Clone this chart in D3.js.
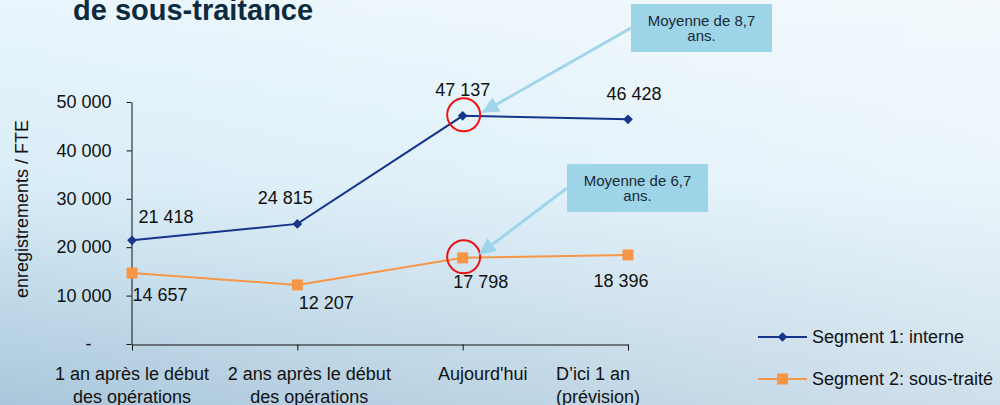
<!DOCTYPE html>
<html>
<head>
<meta charset="utf-8">
<script src="https://cdn.jsdelivr.net/npm/d3@7"></script>
<style>
  html, body { margin: 0; padding: 0; overflow: hidden; }
  svg { display: block; font-family: "Liberation Sans", Arial, sans-serif; }
</style>
</head>
<body>
<svg id="chart"></svg>
<script>
const width = 1000;
const height = 405;

// data
const categories = ["cat1", "cat2", "cat3", "cat4"];
const categoryLabels = [
    ["1 an après le début", "des opérations"],
    ["2 ans après le début", "des opérations"],
    ["Aujourd'hui"],
    ["D’ici 1 an", "(prévision)"]
];
const seriesNames = ["Segment 1: interne", "Segment 2: sous-traité"];
const internal = [21418, 24815, 47137, 46428];
const subcontracted = [14657, 12207, 17798, 18396];
const yTicks = [0, 10000, 20000, 30000, 40000, 50000];

// label placement / styling (not data)
const colors = ["#17358a", "#f79646"];
const labelOffsets = [
    [[34, -17], [-12, -20], [0, -20], [6, -19]],
    [[28, 28], [29, 24], [18, 30], [-7, 32]]
];
const catLabelShift = [[0, "middle"], [12, "middle"], [20, "middle"], [-72, "start"]];
const annotations = [
    { series: 0, index: 2, lines: ["Moyenne de 8,7", "ans."], box: [631, 4, 141, 48], tip: [19, -3] },
    { series: 1, index: 2, lines: ["Moyenne de 6,7", "ans."], box: [567, 164, 141, 48], tip: [16, -3] }
];

const fr = d3.formatLocale({ decimal: ",", thousands: "\u00a0", grouping: [3], currency: ["", " €"] });
const fmt = fr.format(",d");

const svg = d3.select("#chart").attr("width", width).attr("height", height);

// background
const defs = svg.append("defs");
const bg = defs.append("linearGradient").attr("id", "bg").attr("x1", 0).attr("y1", 0).attr("x2", 0).attr("y2", 1);
bg.append("stop").attr("offset", "0%").attr("stop-color", "#e9f5fc");
bg.append("stop").attr("offset", "45%").attr("stop-color", "#d9edf8");
bg.append("stop").attr("offset", "100%").attr("stop-color", "#a9c7db");
const hl = defs.append("linearGradient").attr("id", "hl").attr("x1", 0).attr("y1", 0).attr("x2", 1).attr("y2", 0);
hl.append("stop").attr("offset", "0%").attr("stop-color", "#ffffff").attr("stop-opacity", 0);
hl.append("stop").attr("offset", "100%").attr("stop-color", "#ffffff").attr("stop-opacity", 0.45);
svg.append("rect").attr("width", width).attr("height", height).attr("fill", "url(#bg)");
svg.append("rect").attr("width", width).attr("height", height).attr("fill", "url(#hl)");

// title (partial, top line is cut off)
svg.append("text")
    .attr("x", 73).attr("y", 20)
    .attr("font-size", 29).attr("font-weight", "bold")
    .attr("fill", "#0d2b3e")
    .text("de sous-traitance");

const x = d3.scalePoint().domain(categories).range([132, 628]).padding(0);
const y = d3.scaleLinear().domain([0, 50000]).range([344, 102]);

// y axis
const yAxis = svg.append("g")
    .attr("transform", "translate(131.5,0)")
    .call(d3.axisLeft(y).tickValues(yTicks).tickSize(5).tickSizeOuter(0).tickPadding(15)
        .tickFormat(d => d === 0 ? "-\u2007\u2007" : fmt(d)));
yAxis.selectAll("text").attr("font-size", 18).attr("fill", "#111").attr("font-family", "Liberation Sans, Arial, sans-serif");
yAxis.selectAll("line, path").attr("stroke", "#111");

// x axis
const xAxis = svg.append("g")
    .attr("transform", "translate(0,344.5)")
    .call(d3.axisBottom(x).tickSize(6).tickSizeOuter(0).tickFormat(""));
xAxis.selectAll("line, path").attr("stroke", "#111");

categories.forEach((c, i) => {
    const t = svg.append("text")
        .attr("x", x(c) + catLabelShift[i][0])
        .attr("y", 380)
        .attr("font-size", 18).attr("fill", "#111")
        .attr("text-anchor", catLabelShift[i][1]);
    categoryLabels[i].forEach((ln, j) => {
        t.append("tspan").attr("x", x(c) + catLabelShift[i][0]).attr("dy", j === 0 ? 0 : 22.5).text(ln);
    });
});

// y axis title
svg.append("text")
    .attr("transform", "translate(28,209) rotate(-90)")
    .attr("text-anchor", "middle")
    .attr("font-size", 18).attr("fill", "#111")
    .text("enregistrements / FTE");

// lines
const series = [internal, subcontracted];
const line = d3.line().x((d, i) => x(categories[i])).y(d => y(d));

series.forEach((vals, s) => {
    svg.append("path").datum(vals)
        .attr("d", line)
        .attr("fill", "none")
        .attr("stroke", colors[s])
        .attr("stroke-width", 2);
});

const diamond = d3.symbol().type(d3.symbolDiamond2).size(60);
const square = d3.symbol().type(d3.symbolSquare).size(121);

svg.selectAll(".m1").data(internal).enter().append("path")
    .attr("class", "m1")
    .attr("transform", (d, i) => `translate(${x(categories[i])},${y(d)})`)
    .attr("d", diamond)
    .attr("fill", colors[0]);

svg.selectAll(".m2").data(subcontracted).enter().append("path")
    .attr("class", "m2")
    .attr("transform", (d, i) => `translate(${x(categories[i])},${y(d)})`)
    .attr("d", square)
    .attr("fill", colors[1]);

// data labels
series.forEach((vals, s) => {
    svg.selectAll(".lbl" + s).data(vals).enter().append("text")
        .attr("class", "lbl" + s)
        .attr("x", (d, i) => x(categories[i]) + labelOffsets[s][i][0])
        .attr("y", (d, i) => y(d) + labelOffsets[s][i][1])
        .attr("text-anchor", "middle")
        .attr("font-size", 18).attr("fill", "#111")
        .text(d => fmt(d));
});

// annotations: red circle, callout box and arrow
annotations.forEach(a => {
    const px = x(categories[a.index]);
    const py = y(series[a.series][a.index]);
    svg.append("circle")
        .attr("cx", px + 1).attr("cy", py - 1).attr("r", 16.5)
        .attr("fill", "none").attr("stroke", "#ee1111").attr("stroke-width", 2);

    const [bx, by, bw, bh] = a.box;
    const sx = bx, sy = by + bh / 2;
    const tx = px + a.tip[0], ty = py + a.tip[1];
    const ang = Math.atan2(ty - sy, tx - sx);
    const hlen = 17, hw = 8;
    const baseX = tx - hlen * Math.cos(ang), baseY = ty - hlen * Math.sin(ang);
    svg.append("line")
        .attr("x1", sx).attr("y1", sy).attr("x2", baseX).attr("y2", baseY)
        .attr("stroke", "#9fd5ea").attr("stroke-width", 3);
    const nx = -Math.sin(ang), ny = Math.cos(ang);
    svg.append("path")
        .attr("d", `M${tx},${ty}L${baseX + nx * hw},${baseY + ny * hw}L${baseX - nx * hw},${baseY - ny * hw}Z`)
        .attr("fill", "#9fd5ea");

    svg.append("rect")
        .attr("x", bx).attr("y", by).attr("width", bw).attr("height", bh)
        .attr("fill", "#9dd4e8");
    const t = svg.append("text")
        .attr("text-anchor", "middle")
        .attr("font-size", 15).attr("fill", "#1a2a36");
    a.lines.forEach((ln, j) => {
        t.append("tspan").attr("x", bx + bw / 2).attr("y", by + 21.5 + j * 15).text(ln);
    });
});

// legend
const legend = svg.append("g").attr("transform", "translate(758,0)");
const legendY = [337, 379];
seriesNames.forEach((name, s) => {
    const g = legend.append("g").attr("transform", `translate(0,${legendY[s]})`);
    g.append("line").attr("x1", 0).attr("x2", 49).attr("y1", 0).attr("y2", 0)
        .attr("stroke", colors[s]).attr("stroke-width", 2);
    g.append("path").attr("transform", "translate(24.5,0)")
        .attr("d", s === 0 ? diamond : square)
        .attr("fill", colors[s]);
    g.append("text").attr("x", 54).attr("y", 0).attr("dy", "0.35em")
        .attr("font-size", 18).attr("fill", "#111")
        .text(name);
});
</script>
</body>
</html>
